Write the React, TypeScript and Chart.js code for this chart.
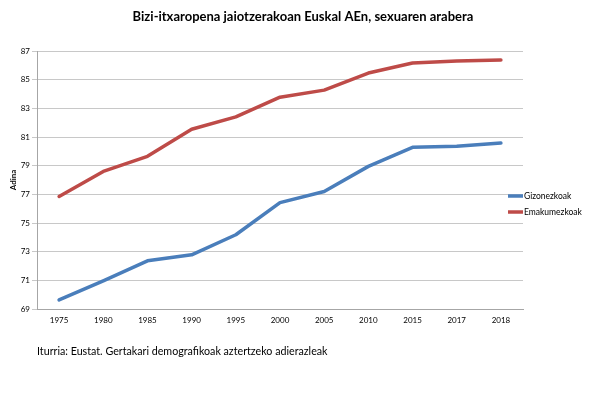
import React, { useEffect, useRef } from "react";
import { Chart, registerables } from "chart.js";

Chart.register(...registerables);

const categories = ["1975", "1980", "1985", "1990", "1995", "2000", "2005", "2010", "2015", "2017", "2018"];
const gizonezkoak = [69.63, 70.96, 72.36, 72.78, 74.18, 76.42, 77.2, 78.95, 80.28, 80.35, 80.58];
const emakumezkoak = [76.85, 78.6, 79.65, 81.54, 82.4, 83.78, 84.27, 85.46, 86.16, 86.3, 86.37];
const seriesNames = ["Gizonezkoak", "Emakumezkoak"];
const seriesColors = ["#4A7EBB", "#BE4B48"];
const yMin = 69;
const yMax = 87;
const yStep = 2;
const titleText = "Bizi-itxaropena jaiotzerakoan Euskal AEn, sexuaren arabera";
const yAxisTitle = "Adina";
const sourceText = "Iturria: Eustat. Gertakari demografikoak aztertzeko adierazleak";

const FONT = "Lato, 'Open Sans', sans-serif";

const legendPlugin = {
  id: "sideLegend",
  afterDraw(chart: any) {
    const { ctx, chartArea } = chart;
    ctx.save();
    chart.data.datasets.forEach((ds: any, i: number) => {
      const y = 196 + i * 16;
      const x0 = chartArea.right - 15;
      ctx.strokeStyle = ds.borderColor;
      ctx.lineWidth = 3.5;
      ctx.lineCap = "butt";
      ctx.beginPath();
      ctx.moveTo(x0, y);
      ctx.lineTo(chartArea.right, y);
      ctx.stroke();
      ctx.fillStyle = "#000";
      ctx.font = `8.5px ${FONT}`;
      ctx.textAlign = "left";
      ctx.textBaseline = "middle";
      ctx.fillText(ds.label, chartArea.right + 1, y);
    });
    ctx.restore();
  },
};

const textPlugin = {
  id: "titleAndSource",
  afterDraw(chart: any) {
    const { ctx, chartArea } = chart;
    ctx.save();
    ctx.fillStyle = "#000";
    ctx.textBaseline = "middle";
    ctx.font = `bold 13px ${FONT}`;
    ctx.textAlign = "center";
    ctx.fillText(titleText, 303, 17);
    ctx.font = `10.7px ${FONT}`;
    ctx.textAlign = "left";
    ctx.fillText(sourceText, chartArea.left, 352);
    ctx.restore();
  },
};

export default function App() {
  const ref = useRef<HTMLCanvasElement | null>(null);

  useEffect(() => {
    if (!ref.current) return;
    const chart = new Chart(ref.current, {
      type: "line",
      data: {
        labels: categories,
        datasets: [
          {
            label: seriesNames[0],
            data: gizonezkoak,
            borderColor: seriesColors[0],
            backgroundColor: seriesColors[0],
            borderWidth: 3.5,
            pointRadius: 0,
            tension: 0,
            borderJoinStyle: "round",
            borderCapStyle: "round",
          },
          {
            label: seriesNames[1],
            data: emakumezkoak,
            borderColor: seriesColors[1],
            backgroundColor: seriesColors[1],
            borderWidth: 3.5,
            pointRadius: 0,
            tension: 0,
            borderJoinStyle: "round",
            borderCapStyle: "round",
          },
        ],
      },
      options: {
        responsive: false,
        animation: false,
        devicePixelRatio: 1,
        layout: { padding: { left: 5, right: 93, top: 51, bottom: 66.4 } },
        plugins: {
          legend: { display: false },
          tooltip: { enabled: false },
          title: { display: false },
        },
        scales: {
          x: {
            type: "category",
            offset: true,
            grid: { display: false, drawTicks: false },
            border: { display: true, color: "#A6A6A6", width: 1 },
            ticks: {
              color: "#000",
              font: { family: FONT, size: 8 },
              padding: 7,
              maxRotation: 0,
              autoSkip: false,
            },
          },
          y: {
            min: yMin,
            max: yMax,
            afterFit: (scale: any) => {
              scale.width = 32;
            },
            ticks: {
              stepSize: yStep,
              color: "#000",
              font: { family: FONT, size: 8 },
              padding: 2,
            },
            grid: { color: "#C8C8C8", tickLength: 5, drawTicks: true },
            border: { display: true, color: "#A6A6A6", width: 1 },
            title: {
              display: true,
              text: yAxisTitle,
              color: "#000",
              font: { family: FONT, size: 8, weight: "bold" },
              padding: { top: 4, bottom: 4 },
            },
          },
        },
      },
      plugins: [legendPlugin, textPlugin],
    });
    return () => chart.destroy();
  }, []);

  return (
    <div style={{ position: "fixed", left: 0, top: 0, width: 616, height: 399, background: "#fff" }}>
      <canvas ref={ref} width={616} height={399} style={{ width: 616, height: 399, display: "block" }} />
    </div>
  );
}
